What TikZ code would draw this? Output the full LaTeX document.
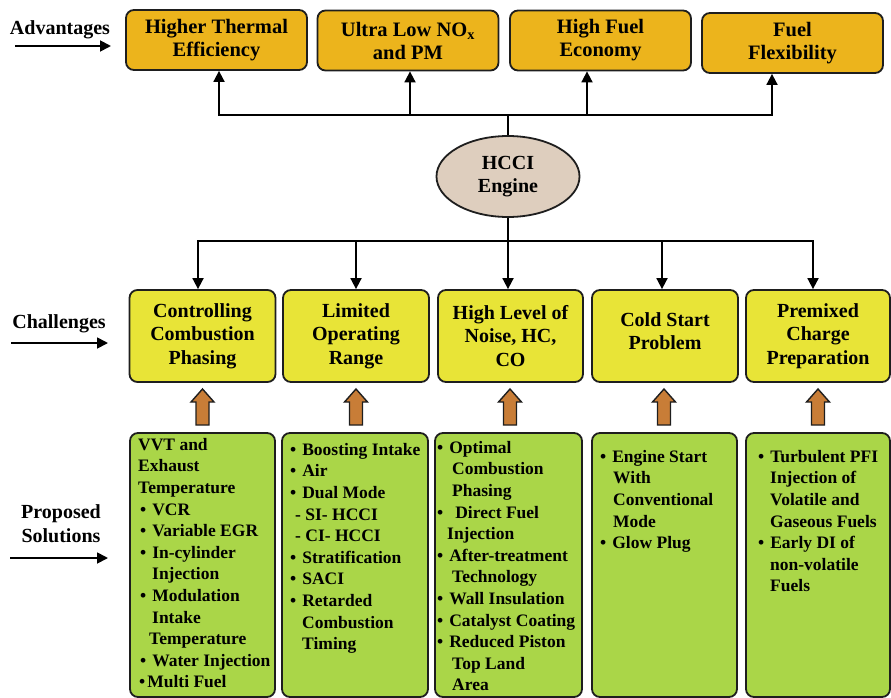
\documentclass[tikz,border=0pt]{standalone}
\usepackage{fontspec}
\setmainfont{Liberation Serif}
\usetikzlibrary{arrows.meta,shapes.geometric}
\definecolor{bd}{RGB}{30,30,30}
\definecolor{gold}{RGB}{236,180,28}
\definecolor{yel}{RGB}{232,228,55}
\definecolor{grn}{RGB}{170,214,72}
\definecolor{tanc}{RGB}{222,206,190}
\definecolor{org}{RGB}{200,125,55}
\newcommand{\mybul}{\textbullet\hspace{6pt}}
\begin{document}
\begin{tikzpicture}[x=1pt,y=-1pt,
  box/.style={draw=bd, line width=1.8pt, rounded corners=8pt, inner sep=0pt, align=center,
    font=\bfseries\fontsize{20.5}{23}\selectfont},
  adv/.style={box, fill=gold, minimum width=181pt, minimum height=60pt},
  chal/.style={box, fill=yel, minimum width=146pt, minimum height=92pt,
    font=\bfseries\fontsize{20}{23.3}\selectfont},
  sol/.style={draw=bd, line width=1.8pt, rounded corners=8pt, fill=grn, inner sep=0pt,
    minimum width=145pt, minimum height=264pt},
  soltext/.style={anchor=north west, align=left, inner sep=0pt,
    font=\bfseries\fontsize{17.5}{21.6}\selectfont},
  lab/.style={align=center, inner sep=0pt, font=\bfseries\fontsize{20}{24}\selectfont},
  conn/.style={line width=1.8pt, draw=black},
  tip/.style={conn, -{Triangle[length=11pt,width=11pt]}},
  uparrow/.pic={\draw[draw=bd, line width=1.4pt, fill=org, line join=miter]
    (0,0) -- (11.5,13) -- (6.5,13) -- (6.5,36) -- (-6.5,36) -- (-6.5,13) -- (-11.5,13) -- cycle;}
]
\useasboundingbox (0,0) rectangle (891,698);

% Advantages
\node[adv] (a1) at (216.5,40) {Higher Thermal\\Efficiency};
\node[adv] (a2) at (408,40.5) {Ultra Low NO\textsubscript{x}\\and PM};
\node[adv] (a3) at (600.5,40.5) {High Fuel\\Economy};
\node[adv] (a4) at (792.5,43) {Fuel\\Flexibility};

% Engine
\node[ellipse, draw=bd, line width=1.8pt, fill=tanc, minimum width=143pt, minimum height=81pt,
  inner sep=0pt, align=center, font=\bfseries\fontsize{20}{23}\selectfont] (e) at (508,176.5) {HCCI\\Engine};

\coordinate (hubT) at (508,115);
\draw[conn] (e.north) -- (hubT);
\draw[tip] (hubT) -| ([xshift=2.5pt]a1.south);
\draw[tip] (hubT) -| ([xshift=2pt]a2.south);
\draw[tip] (hubT) -| ([xshift=-13.5pt]a3.south);
\draw[tip] (hubT) -| ([xshift=-20.5pt]a4.south);

% Challenges
\node[chal] (c1) at (202.5,336) {Controlling\\Combustion\\Phasing};
\node[chal] (c2) at (356,336) {Limited\\Operating\\Range};
\node[chal, minimum width=145pt] (c3) at (510.5,336) {High Level of\\Noise, HC,\\CO};
\node[chal, text depth=10pt] (c4) at (665,336) {Cold Start\\Problem};
\node[chal, minimum width=144pt] (c5) at (818,336) {Premixed\\Charge\\Preparation};

\coordinate (hubB) at (508,241);
\draw[conn] (e.south) -- (hubB);
\draw[tip] (hubB) -| ([xshift=-4.5pt]c1.north);
\draw[tip] (hubB) -| (c2.north);
\draw[tip] (hubB) -| ([xshift=-2.5pt]c3.north);
\draw[tip] (hubB) -| ([xshift=-3pt]c4.north);
\draw[tip] (hubB) -| ([xshift=-5pt]c5.north);

% Solutions
\node[sol] (s1) at (202.5,565) {};
\node[sol, minimum width=146pt] (s2) at (355,565) {};
\node[sol, minimum width=147pt] (s3) at (508.5,565) {};
\node[sol] (s4) at (664.5,565) {};
\node[sol, minimum width=144pt] (s5) at (818,565) {};

\node[soltext] (t1) at (138,438) {VVT and\\Exhaust\\Temperature\\
\hspace*{2pt}\mybul VCR\\
\hspace*{2pt}\mybul Variable EGR\\
\hspace*{2pt}\mybul In-cylinder\\
\hspace*{14pt}Injection\\
\hspace*{2pt}\mybul Modulation\\
\hspace*{14pt}Intake\\
\hspace*{11pt}Temperature\\
\hspace*{2pt}\mybul Water Injection\\
\hspace*{1pt}\textbullet\hspace{2pt}Multi Fuel};

\node[soltext] (t2) at (290,443) {\mybul Boosting Intake\\
\mybul Air\\
\mybul Dual Mode\\
\hspace*{5pt}- SI- HCCI\\
\hspace*{5pt}- CI- HCCI\\
\mybul Stratification\\
\mybul SACI\\
\mybul Retarded\\
\hspace*{12pt}Combustion\\
\hspace*{12pt}Timing};

\node[soltext] (t3) at (437,441) {\mybul Optimal\\
\hspace*{15pt}Combustion\\
\hspace*{15pt}Phasing\\
\textbullet\hspace*{12pt}Direct Fuel\\
\hspace*{10pt}Injection\\
\mybul After-treatment\\
\hspace*{15pt}Technology\\
\mybul Wall Insulation\\
\mybul Catalyst Coating\\
\mybul Reduced Piston\\
\hspace*{15pt}Top Land\\
\hspace*{15pt}Area};

\node[soltext] (t4) at (600,450) {\mybul Engine Start\\
\hspace*{13pt}With\\
\hspace*{13pt}Conventional\\
\hspace*{13pt}Mode\\
\mybul Glow Plug};

\node[soltext] (t5) at (758,450) {\mybul Turbulent PFI\\
\hspace*{12pt}Injection of\\
\hspace*{12pt}Volatile and\\
\hspace*{12pt}Gaseous Fuels\\
\mybul Early DI of\\
\hspace*{12pt}non-volatile\\
\hspace*{12pt}Fuels};

% Thick arrows (solutions -> challenges)
\pic (u1) at (202.5,389) {uparrow};
\pic (u2) at (356,389) {uparrow};
\pic (u3) at (510,389) {uparrow};
\pic (u4) at (664,389) {uparrow};
\pic (u5) at (818,389) {uparrow};

% Left labels
\node[lab, anchor=base] (lA) at (60,35) {Advantages};
\coordinate (lA0) at (15,46); \coordinate (lA1) at (111,46);
\draw[tip] (lA0) -- (lA1);
\node[lab, anchor=base] (lC) at (59,328) {Challenges};
\coordinate (lC0) at (11,343); \coordinate (lC1) at (108,343);
\draw[tip] (lC0) -- (lC1);
\node[lab, anchor=base] (lP) at (61,542) {Proposed\\Solutions};
\coordinate (lP0) at (10,558); \coordinate (lP1) at (108,558);
\draw[tip] (lP0) -- (lP1);
\end{tikzpicture}
\end{document}
